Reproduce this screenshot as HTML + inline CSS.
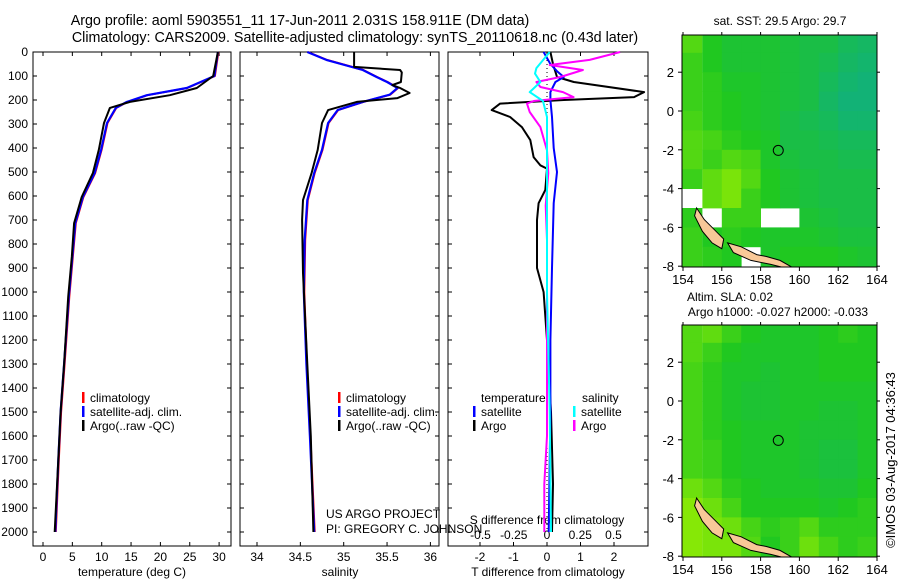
<!DOCTYPE html>
<html><head><meta charset="utf-8">
<style>
body{margin:0;background:#fff;}
svg{display:block;font-family:"Liberation Sans",sans-serif;}
text{fill:#000;}
</style></head><body>
<svg id="s" width="900" height="580" xmlns="http://www.w3.org/2000/svg">
<defs>
<clipPath id="c1"><rect x="682" y="35" width="195" height="232"/></clipPath>
<clipPath id="c2"><rect x="682" y="325" width="195" height="232"/></clipPath>
</defs>
<text x="300" y="25" font-size="14.3" text-anchor="middle">Argo profile: aoml 5903551_11 17-Jun-2011 2.031S 158.911E (DM data)</text>
<text x="355" y="42" font-size="14.3" text-anchor="middle">Climatology: CARS2009. Satellite-adjusted climatology: synTS_20110618.nc (0.43d later)</text>
</svg>
<script>
// ---- data ----
const depthT=[0,100,150,180,208,233,296,408,504,604,713,854,1020,1300,1500,1700,2000];
const tempArgo=[29.8,29.0,26.2,21.6,14.8,11.4,10.4,9.5,8.5,6.6,5.3,4.9,4.3,3.6,3.0,2.6,2.0];
const tempClim=[29.8,29.2,24.5,17.7,14.3,12.4,10.9,9.9,8.8,6.8,5.5,5.0,4.4,3.6,3.0,2.6,2.1];
const depthSA=[0,62,75,85,125,138,150,171,192,208,242,296,408,504,617,700,921,1300,1600,2000];
const salArgo=[35.12,35.12,35.65,35.67,35.66,35.56,35.65,35.76,35.62,35.15,34.82,34.75,34.70,34.63,34.53,34.52,34.53,34.58,34.62,34.65];
const depthSC=[0,33,75,104,125,150,178,208,242,296,408,504,617,783,1000,1300,1600,2000];
const salClim=[34.58,34.8,35.22,35.38,35.5,35.62,35.53,35.22,34.93,34.82,34.75,34.66,34.58,34.55,34.54,34.57,34.61,34.66];
const depthDT=[0,50,104,125,167,188,200,215,242,271,313,367,438,472,486,575,630,700,783,900,1000,1200,1500,1800,2000];
const tDiffArgo=[0.1,0.18,0.3,0.8,2.9,2.6,0.5,-1.4,-1.65,-1.1,-0.75,-0.5,-0.4,-0.2,0,-0.05,-0.25,-0.3,-0.3,-0.3,-0.1,0,0.12,0.18,0.15];
const depthDTs=[0,50,80,104,125,167,200,271,400,500,630,900,1200,1500,2000];
const tDiffSat=[-0.1,0.1,0.3,0.5,0.25,0.1,0.1,0.15,0.2,0.3,0.2,0.15,0.1,0.1,0.05];
const depthDS=[0,33,54,75,104,125,146,167,188,204,215,250,313,410,504,640,783,1200,1600,1800,2000];
const sDiffArgo=[0.55,0.32,0.02,0.27,0.1,-0.08,-0.05,0.12,0.2,-0.1,-0.15,-0.13,-0.05,0,0.01,-0.01,0,0,0,-0.02,-0.02];
const depthDSs=[0,67,90,125,167,204,271,500,1000,1500,2000];
const sDiffSat=[0.02,-0.08,-0.09,-0.05,-0.13,-0.03,0,0,0,0.02,0.03];
const depthTicks=[0,100,200,300,400,500,600,700,800,900,1000,1100,1200,1300,1400,1500,1600,1700,1800,1900,2000];
const tempTicks=[0,5,10,15,20,25,30];
const salTicks=[34,34.5,35,35.5,36];
const salTickLabels=["34","34.5","35","35.5","36"];
const tdTicks=[-2,-1,0,1,2];
const sdTicks=[-0.5,-0.25,0,0.25,0.5];
const sdTickLabels=["-0.5","-0.25","0","0.25","0.5"];
const lonTicks=[154,156,158,160,162,164];
const latTicks=[2,0,-2,-4,-6,-8];
const sstGrid=[
[0.7,0.5,0.4,0.4,0.4,0.35,0.3,0.3,0.2,0.15],
[0.6,0.5,0.4,0.4,0.4,0.35,0.3,0.25,0.15,0.1],
[0.6,0.55,0.45,0.45,0.4,0.35,0.3,0.2,0.1,0.05],
[0.6,0.55,0.5,0.45,0.4,0.35,0.3,0.15,0.05,0.05],
[0.65,0.55,0.5,0.45,0.4,0.3,0.25,0.2,0.1,0.1],
[0.7,0.65,0.55,0.5,0.45,0.3,0.3,0.25,0.2,0.2],
[0.7,0.6,0.7,0.65,0.45,0.35,0.3,0.3,0.25,0.25],
[0.6,0.75,0.85,0.7,0.5,0.4,0.35,0.3,0.3,0.3],
[null,0.75,0.85,0.6,0.5,0.4,0.35,0.3,0.3,0.3],
[0.55,null,0.6,0.6,null,null,0.4,0.35,0.3,0.3],
[0.6,0.5,0.55,0.5,0.45,0.45,0.45,0.4,0.35,0.35],
[0.6,0.55,0.5,null,0.45,0.5,0.5,0.5,0.45,0.4]];
const slaGrid=[
[0.7,0.75,0.6,0.5,0.45,0.45,0.45,0.5,0.55,0.5],
[0.7,0.6,0.5,0.45,0.45,0.45,0.45,0.5,0.5,0.5],
[0.65,0.55,0.45,0.45,0.4,0.45,0.45,0.5,0.5,0.5],
[0.65,0.55,0.45,0.4,0.4,0.45,0.45,0.45,0.45,0.45],
[0.65,0.55,0.45,0.4,0.4,0.45,0.45,0.4,0.4,0.45],
[0.65,0.55,0.5,0.45,0.45,0.45,0.4,0.4,0.4,0.45],
[0.65,0.6,0.5,0.45,0.45,0.45,0.4,0.35,0.35,0.45],
[0.65,0.6,0.5,0.45,0.45,0.45,0.4,0.35,0.35,0.45],
[0.8,0.7,0.55,0.5,0.45,0.45,0.45,0.4,0.4,0.5],
[0.9,0.8,0.65,0.5,0.5,0.5,0.5,0.45,0.5,0.55],
[0.9,0.85,0.8,0.65,0.55,0.6,0.7,0.55,0.55,0.55],
[0.9,0.85,0.85,0.7,0.5,0.6,0.8,0.65,0.55,0.6]];
const island1Lon=[154.7,155.1,155.6,156.1,156.0,155.5,155.0,154.6];
const island1Lat=[-5.0,-5.6,-6.1,-6.6,-7.1,-6.8,-6.2,-5.4];
const island2Lon=[156.3,157.0,157.8,158.3,159.0,159.7,159.3,158.5,157.5,156.6];
const island2Lat=[-6.8,-7.0,-7.4,-7.5,-7.7,-8.1,-8.1,-7.9,-7.7,-7.3];
const argoLon=158.911, argoLat=-2.031;

// ---- helpers ----
const S=document.getElementById('s');const NS='http://www.w3.org/2000/svg';
function mk(tag,attrs,parent){const e=document.createElementNS(NS,tag);for(const k in attrs)e.setAttribute(k,attrs[k]);(parent||S).appendChild(e);return e;}
const yD=d=>52+d*0.24;
const PT=52,PB=546;
function panel(x0,x1,name){
  const g=mk('g',{});
  
  
  const r=mk('rect',{x:x0,y:PT,width:x1-x0,height:PB-PT,fill:'none',stroke:'#000','stroke-width':1},g);
  
  
  depthTicks.forEach(d=>{mk('line',{x1:x0,x2:x0+4,y1:yD(d),y2:yD(d),stroke:'#000'},g);mk('line',{x1:x1-4,x2:x1,y1:yD(d),y2:yD(d),stroke:'#000'},g);});
  return g;
}
function line(xs,ds,fx,color,w,g,name){
  const p=xs.map((v,i)=>fx(v).toFixed(1)+','+yD(ds[i]).toFixed(1)).join(' ');
  const e=mk('polyline',{points:p,fill:'none',stroke:color,'stroke-width':w,'stroke-linejoin':'round'},g);
  
  
}
function txt(x,y,s,opt,g){const t=mk('text',Object.assign({x:x,y:y,'font-size':12},opt||{}),g);t.textContent=s;return t;}

// panel 1 temperature
const xT=t=>43+t*5.87;
const g1=panel(33,231,'temperature-panel');
depthTicks.forEach(d=>{const t=txt(28,yD(d)+4,String(d),{'text-anchor':'end'},S);});
tempTicks.forEach(v=>{mk('line',{x1:xT(v),x2:xT(v),y1:PB-4,y2:PB,stroke:'#000'},g1);mk('line',{x1:xT(v),x2:xT(v),y1:PT,y2:PT+4,stroke:'#000'},g1);const t=txt(xT(v),561,String(v),{'text-anchor':'middle'},g1);});
txt(132,576,'temperature (deg C)',{'text-anchor':'middle'},g1);
line(tempClim,depthT,t=>xT(t)+0.5,'#f00',2,g1,'temp-climatology-line');
line(tempClim,depthT,xT,'#00f',2.2,g1,'temp-satellite-line');
line(tempArgo,depthT,xT,'#000',2,g1,'temp-argo-line');

// panel 2 salinity
const xS=s=>257+(s-34)*86.7;
const g2=panel(240,439,'salinity-panel');
salTicks.forEach((v,i)=>{mk('line',{x1:xS(v),x2:xS(v),y1:PB-4,y2:PB,stroke:'#000'},g2);mk('line',{x1:xS(v),x2:xS(v),y1:PT,y2:PT+4,stroke:'#000'},g2);const t=txt(xS(v),561,salTickLabels[i],{'text-anchor':'middle'},g2);});
txt(340,576,'salinity',{'text-anchor':'middle'},g2);
line(salClim,depthSC,s=>xS(s)+0.5,'#f00',2,g2,'sal-climatology-line');
line(salClim,depthSC,xS,'#00f',2.2,g2,'sal-satellite-line');
line(salArgo,depthSA,xS,'#000',2,g2,'sal-argo-line');

// panel 3 differences
const xTD=v=>547+v*33.5, xSD=v=>547+v*133;
const g3=panel(448,648,'difference-panel');
tdTicks.forEach(v=>{mk('line',{x1:xTD(v),x2:xTD(v),y1:PB-4,y2:PB,stroke:'#000'},g3);mk('line',{x1:xTD(v),x2:xTD(v),y1:PT,y2:PT+4,stroke:'#000'},g3);const t=txt(xTD(v),561,String(v),{'text-anchor':'middle'},g3);});
sdTicks.forEach((v,i)=>{const t=txt(xSD(v),539,sdTickLabels[i],{'text-anchor':'middle'},g3);});
txt(547,524,'S difference from climatology',{'text-anchor':'middle'},g3);
txt(548,576,'T difference from climatology',{'text-anchor':'middle'},g3);
mk('line',{x1:547,x2:547,y1:52,y2:532,stroke:'#000','stroke-dasharray':'1,3'},g3);
line(tDiffArgo,depthDT,xTD,'#000',2,g3,'tdiff-argo-line');
line(tDiffSat,depthDTs,xTD,'#00f',2,g3,'tdiff-satellite-line');
line(sDiffArgo,depthDS,xSD,'#f0f',2,g3,'sdiff-argo-line');
line(sDiffSat,depthDSs,xSD,'#0ff',2,g3,'sdiff-satellite-line');

// legends
function leg(x,y,color,label,name){const g=mk('g',{});mk('rect',{x:x,y:y-10,width:2.5,height:11,fill:color},g);txt(x+8,y,label,{},g);}
leg(82,402,'#f00','climatology','legend-climatology');
leg(82,416,'#00f','satellite-adj. clim.','legend-satellite');
leg(82,430,'#000','Argo(..raw -QC)','legend-argo');
leg(338,402,'#f00','climatology','legend2-climatology');
leg(338,416,'#00f','satellite-adj. clim.','legend2-satellite');
leg(338,430,'#000','Argo(..raw -QC)','legend2-argo');
txt(481,402,'temperature');
txt(582,402,'salinity');
leg(473,416,'#00f','satellite','legend-t-satellite');
leg(473,430,'#000','Argo','legend-t-argo');
leg(573,416,'#0ff','satellite','legend-s-satellite');
leg(573,430,'#f0f','Argo','legend-s-argo');
txt(326,518,'US ARGO PROJECT');
txt(326,533,'PI: GREGORY C. JOHNSON');

// maps
function colorOf(v){
  const c0=[16,176,128],c1=[32,200,32],c2=[160,240,0];
  let a,b,t;if(v<0.5){a=c0;b=c1;t=v/0.5;}else{a=c1;b=c2;t=(v-0.5)/0.5;}
  return 'rgb('+a.map((x,i)=>Math.round(x+(b[i]-x)*t)).join(',')+')';
}
function map(y0,grid,name,clip){
  const x0=682,x1=877,yTop=y0,lat0=111-35+y0;
  const X=lon=>683+(lon-154)*19.4, Y=lat=>lat0-lat*19.4;
  const g=mk('g',{});
  
  
  const h=232;
  const cg=mk('g',{'clip-path':'url(#'+clip+')'},g);
  mk('rect',{x:x0,y:yTop,width:x1-x0,height:h,fill:'#fff'},cg);
  grid.forEach((row,r)=>row.forEach((v,c)=>{
    if(v===null)return;
    const latTop=r===0?4.5:4-r;
    const cell=mk('rect',{x:X(154+c)-(c===0?2:0),y:Y(latTop),width:19.4+(c===0?2:0.4),height:Y(4-r-1)-Y(latTop)+(r===11?3:0.4),fill:colorOf(v)},cg);
    
    
  }));
  [[island1Lon,island1Lat],[island2Lon,island2Lat]].forEach(([lo,la])=>{
    const p=mk('polygon',{points:lo.map((v,i)=>X(v).toFixed(1)+','+Y(la[i]).toFixed(1)).join(' '),fill:'#f8c898',stroke:'#000','stroke-width':1},cg);
    
    
  });
  const ci=mk('circle',{cx:X(argoLon),cy:Y(argoLat),r:5,fill:'none',stroke:'#000'},g);
  
  
  mk('rect',{x:x0,y:yTop,width:x1-x0,height:h,fill:'none',stroke:'#000'},g);
  lonTicks.forEach(v=>{mk('line',{x1:X(v),x2:X(v),y1:yTop+h,y2:yTop+h+4,stroke:'#000'},g);mk('line',{x1:X(v),x2:X(v),y1:yTop-3,y2:yTop,stroke:'#000'},g);const t=txt(X(v),yTop+h+17,String(v),{'text-anchor':'middle','font-size':13},g);});
  latTicks.forEach(v=>{mk('line',{x1:x0-4,x2:x0,y1:Y(v),y2:Y(v),stroke:'#000'},g);mk('line',{x1:x1,x2:x1+3,y1:Y(v),y2:Y(v),stroke:'#000'},g);const t=txt(x0-8,Y(v)+5,String(v),{'text-anchor':'end','font-size':13},g);});
}
map(35,sstGrid,'sst-map','c1');
map(325,slaGrid,'sla-map','c2');
txt(780,25,'sat. SST: 29.5  Argo: 29.7',{'text-anchor':'middle'});
txt(730,301,'Altim. SLA: 0.02',{'text-anchor':'middle'});
txt(778,316,'Argo h1000: -0.027 h2000: -0.033',{'text-anchor':'middle'});
txt(0,0,'©IMOS 03-Aug-2017 04:36:43',{'text-anchor':'middle','font-size':13,transform:'translate(895,460) rotate(-90)'});
</script>
</body></html>
